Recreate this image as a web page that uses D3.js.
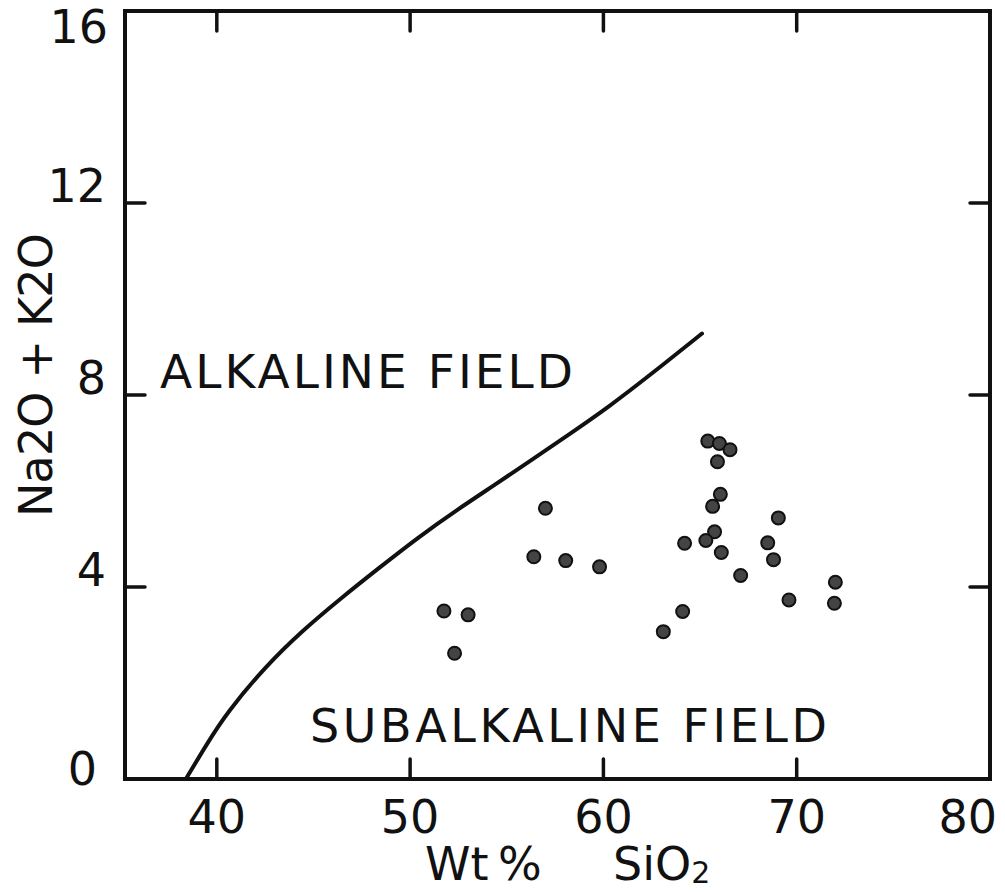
<!DOCTYPE html>
<html>
<head>
<meta charset="utf-8">
<script src="https://cdn.jsdelivr.net/npm/d3@7"></script>
<style>
  body { margin: 0; background: #fff; }
  svg { display: block; font-family: "DejaVu Sans", sans-serif; }
</style>
</head>
<body>
<svg class="tas" width="1005" height="892"></svg>
<script>
// sample points (Wt % SiO2 vs Na2O + K2O)
let sio2 = [57.0, 56.4, 58.05, 59.8, 64.2, 51.75, 53.0, 52.3, 64.1, 63.1,
            65.4, 66.0, 66.55, 65.9, 66.05, 65.65, 69.05, 65.75, 65.3, 66.1,
            68.5, 68.8, 67.1, 72.0, 69.6, 71.95];
let alkali = [5.64, 4.63, 4.55, 4.42, 4.91, 3.5, 3.42, 2.62, 3.49, 3.07,
              7.04, 6.99, 6.86, 6.61, 5.93, 5.68, 5.44, 5.15, 4.97, 4.72,
              4.92, 4.57, 4.24, 4.10, 3.73, 3.66];

// alkaline / subalkaline dividing curve
let curveSiO2 = [38.4, 39.5, 40.5, 42.5, 44.45, 46.4, 48.4, 50.4, 52.4, 54.35, 56.3, 58.3, 60.3, 62.3, 65.1];
let curveAlk  = [0, 0.74, 1.37, 2.34, 3.10, 3.76, 4.40, 5.03, 5.60, 6.12, 6.65, 7.20, 7.76, 8.38, 9.28];

let xTicks = [40, 50, 60, 70];
let yTicks = [4, 8, 12];
let xLabels = [40, 50, 60, 70, 80];
let yLabels = [0, 4, 8, 12, 16];

let svg = d3.select("body").select(".tas");

// frame edges
let frame = {left: 125, right: 990, top: 11, bottom: 779};

let x = d3.scaleLinear().domain([35.25, 80]).range([frame.left, frame.right]);
let y = d3.scaleLinear().domain([0, 16]).range([frame.bottom, frame.top]);

let points = sio2.map((s, i) => ({s: s, a: alkali[i]}));
let curve = curveSiO2.map((s, i) => ({s: s, a: curveAlk[i]}));

// frame box
svg.append("rect")
  .attr("x", x(35.25))
  .attr("y", y(16))
  .attr("width", x(80) - x(35.25))
  .attr("height", y(0) - y(16))
  .attr("fill", "none")
  .attr("stroke", "#111")
  .attr("stroke-width", 4);

//ticks point inward on all four sides
let tickLen = 20;
let ticks = svg.append("g")
  .attr("stroke", "#111")
  .attr("stroke-width", 3.5)
  .attr("stroke-linecap", "round");

[frame.bottom, frame.top].forEach(function(edge) {
  let dir = edge == frame.bottom ? -1 : 1;
  ticks.selectAll(null)
    .data(xTicks)
    .enter().append("line")
    .attr("x1", d => x(d)).attr("x2", d => x(d))
    .attr("y1", edge).attr("y2", edge + dir * tickLen);
});
[frame.left, frame.right].forEach(function(edge) {
  let dir = edge == frame.left ? 1 : -1;
  ticks.selectAll(null)
    .data(yTicks)
    .enter().append("line")
    .attr("y1", d => y(d)).attr("y2", d => y(d))
    .attr("x1", edge).attr("x2", edge + dir * tickLen);
});

// tick labels
svg.append("g").selectAll("text")
  .data(xLabels)
  .enter().append("text")
  .attr("x", d => d == 80 ? x(d) + 7 : x(d))
  .attr("y", 833)
  .attr("text-anchor", d => d == 80 ? "end" : "middle")
  .attr("font-size", 46)
  .attr("fill", "#111")
  .text(d => d);

svg.append("g").selectAll("text")
  .data(yLabels)
  .enter().append("text")
  .attr("x", function(d) {
    if (d == 0) return 97;
    if (d == 16) return 108;
    return 106;
  })
  .attr("y", function(d) {
    if (d == 0) return y(d) + 6;
    if (d == 16) return y(d) + 32;
    return y(d) - 1;
  })
  .attr("text-anchor", "end")
  .attr("font-size", 46)
  .attr("fill", "#111")
  .text(d => d);

// axis titles
let xTitle = svg.append("text")
  .attr("y", 880)
  .attr("font-size", 46)
  .attr("fill", "#111");
xTitle.append("tspan").attr("x", 425).text("Wt");
xTitle.append("tspan").attr("x", 498).text("%");
xTitle.append("tspan").attr("x", 613).text("SiO");
xTitle.append("tspan").attr("font-size", 30).attr("dy", 3).text("2");

svg.append("text")
  .attr("transform", "translate(52,375) rotate(-90)")
  .attr("text-anchor", "middle")
  .attr("font-size", 46)
  .attr("fill", "#111")
  .attr("textLength", 284)
  .attr("lengthAdjust", "spacing")
  .text("Na2O + K2O");

// field names
svg.append("text")
  .attr("x", 160)
  .attr("y", 388)
  .attr("font-size", 47)
  .attr("fill", "#111")
  .attr("textLength", 413)
  .attr("lengthAdjust", "spacing")
  .text("ALKALINE FIELD");

svg.append("text")
  .attr("x", 310)
  .attr("y", 742)
  .attr("font-size", 46)
  .attr("fill", "#111")
  .attr("textLength", 517)
  .attr("lengthAdjust", "spacing")
  .text("SUBALKALINE FIELD");

// dividing line
let line = d3.line()
  .x(d => x(d.s))
  .y(d => y(d.a))
  .curve(d3.curveBasis);

svg.append("path")
  .datum(curve)
  .attr("fill", "none")
  .attr("stroke", "#111")
  .attr("stroke-width", 4)
  .attr("stroke-linecap", "round")
  .attr("d", line);

// samples
svg.append("g").selectAll("circle")
  .data(points)
  .enter().append("circle")
  .attr("cx", d => x(d.s))
  .attr("cy", d => y(d.a))
  .attr("r", 6.5)
  .attr("fill", "#444")
  .attr("stroke", "#111")
  .attr("stroke-width", 2);
</script>
</body>
</html>
